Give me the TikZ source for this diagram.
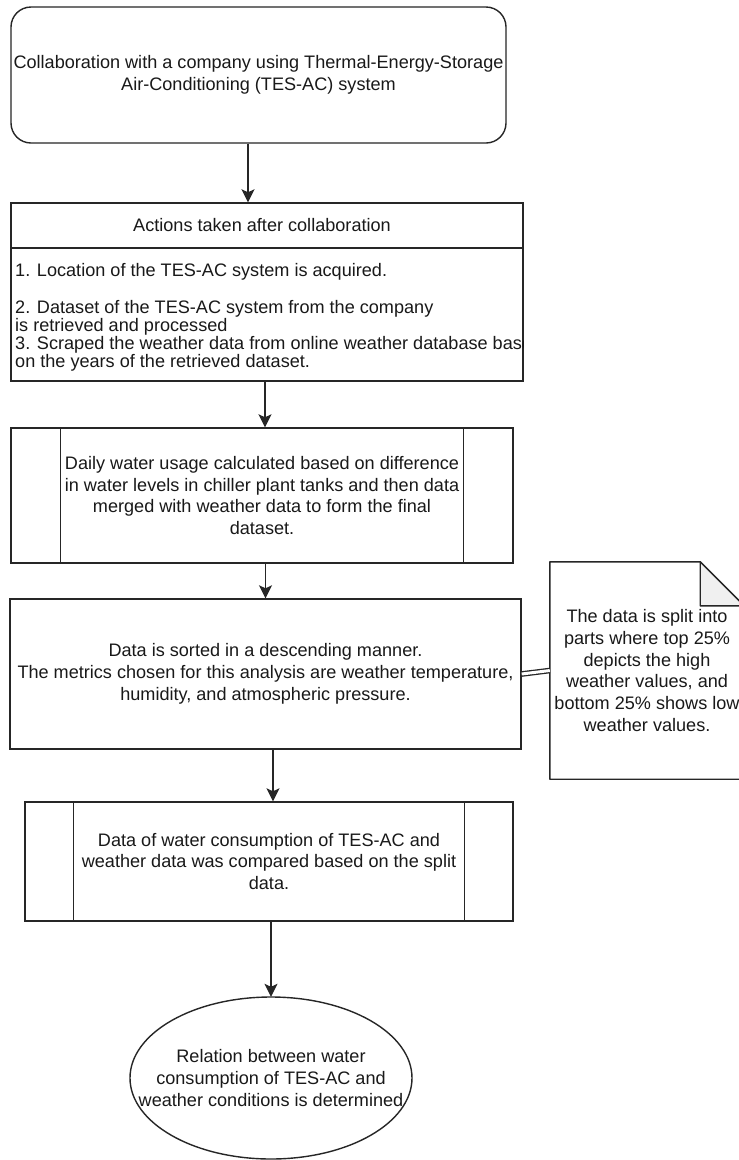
\documentclass[tikz,border=0pt]{standalone}
\usepackage{fontspec}
\setmainfont{Liberation Sans}
\usetikzlibrary{arrows.meta}
\tikzset{
  every node/.style={font=\fontsize{18.1}{21.7}\selectfont, text=black!90},
  line/.style={draw=black!85, line width=1.4pt},
  arr/.style={line, -{Stealth[length=13pt,width=13pt,inset=3pt]}},
  boxnode/.style={line, rectangle, inner sep=0pt, align=center},
  plainbox/.style={rectangle, inner sep=0pt, align=center},
  listline/.style={anchor=base west, inner sep=0pt}
}
\begin{document}
\begin{tikzpicture}[x=1pt, y=-1pt]
\clip (0,0) rectangle (739,1160);
\fill[white] (0,0) rectangle (739,1160);

% start: rounded box
\node[boxnode, rounded corners=20pt, minimum width=495pt, minimum height=136pt]
  (start) at (258.5,75)
  {Collaboration with a company using Thermal-Energy-Storage\\Air-Conditioning (TES-AC) system};

% list box with a header row
\node[boxnode, minimum width=512pt, minimum height=178pt] (acts) at (267,292) {};
\draw[line] (acts.west |- 0,248) -- (acts.east |- 0,248);
\node[plainbox] (actshead) at (262,225) {Actions taken after collaboration};
\begin{scope}
  \clip (11,248) rectangle (523,381);
  \node[listline] (item1) at (15,276) {1. Location of the TES-AC system is acquired.};
  \node[listline] (item2a) at (15,313) {2. Dataset of the TES-AC system from the company};
  \node[listline] (item2b) at (15,331) {is retrieved and processed};
  \node[listline] (item3a) at (15,349) {3. Scraped the weather data from online weather database based};
  \node[listline] (item3b) at (15,367) {on the years of the retrieved dataset.};
\end{scope}

% predefined process: water usage
\node[boxnode, minimum width=502pt, minimum height=135pt] (daily) at (262,495.5)
  {Daily water usage calculated based on difference\\in water levels in chiller plant tanks and then data\\merged with weather data to form the final\\dataset.};
\draw[line] ([xshift=50pt]daily.north west) -- ([xshift=50pt]daily.south west);
\draw[line] ([xshift=-50pt]daily.north east) -- ([xshift=-50pt]daily.south east);

% sorting step
\node[boxnode, minimum width=511pt, minimum height=150pt] (sorted) at (265.5,674)
  {Data is sorted in a descending manner.\\The metrics chosen for this analysis are weather temperature,\\humidity, and atmospheric pressure.};

% note with folded corner
\node[plainbox, minimum width=194pt, minimum height=217pt] (note) at (647,670.5)
  {The data is split into\\parts where top 25\%\\depicts the high\\weather values, and\\bottom 25\% shows low\\weather values.};
\draw[line, line join=round] (note.north west) -- ([xshift=-44pt]note.north east)
  -- ([yshift=-44pt]note.north east) -- (note.south east) -- (note.south west) -- cycle;
\filldraw[line, fill=gray!12, line join=round] ([xshift=-44pt]note.north east)
  -- ([xshift=-44pt,yshift=-44pt]note.north east) -- ([yshift=-44pt]note.north east) -- cycle;
\draw[draw=black!85, line width=1.3pt, double=white, double distance=3pt] (sorted.east) -- (note.west);

% predefined process: comparison
\node[boxnode, minimum width=488pt, minimum height=119pt] (comp) at (269,861.5)
  {Data of water consumption of TES-AC and\\weather data was compared based on the split\\data.};
\draw[line] ([xshift=49pt]comp.north west) -- ([xshift=49pt]comp.south west);
\draw[line] ([xshift=-49pt]comp.north east) -- ([xshift=-49pt]comp.south east);

% terminal: ellipse drawn round a fixed-size node
\node[plainbox, minimum width=282pt, minimum height=162pt] (result) at (271,1078)
  {Relation between water\\consumption of TES-AC and\\weather conditions is determined};
\draw[line] (result.center) ellipse [x radius=141pt, y radius=81pt];

% flow arrows
\draw[arr] ([xshift=-10.5pt]start.south) -- ([xshift=-10.5pt]start.south |- acts.north);
\draw[arr] ([xshift=-2pt]acts.south) -- ([xshift=-2pt]acts.south |- daily.north);
\draw[arr] (sorted.north |- daily.south) -- (sorted.north);
\draw[arr] ([xshift=7.5pt]sorted.south) -- ([xshift=7.5pt]sorted.south |- comp.north);
\draw[arr] ([xshift=2pt]comp.south) -- ([xshift=2pt]comp.south |- result.north);
\end{tikzpicture}
\end{document}
